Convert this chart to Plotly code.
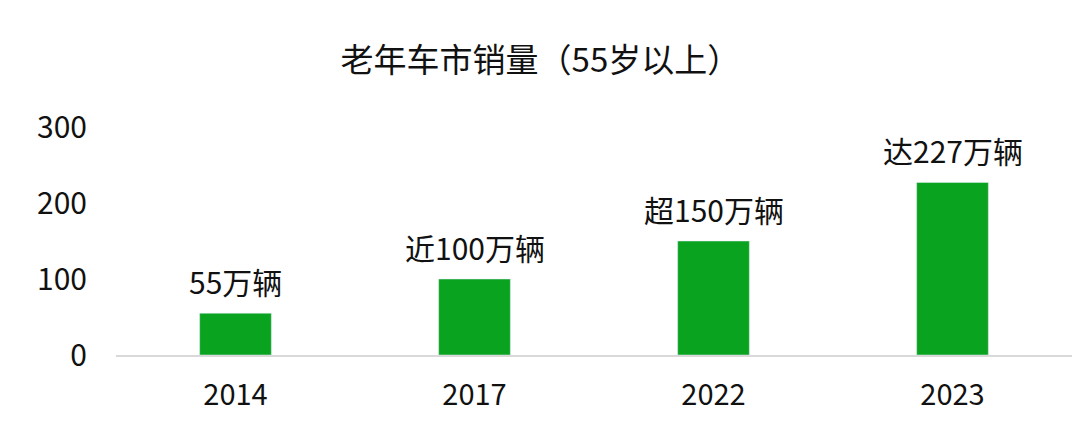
import plotly.graph_objects as go

years = ['2014', '2017', '2022', '2023']
sales = [55, 100, 150, 227]
labels = ['55万辆', '近100万辆', '超150万辆', '达227万辆']
y_ticks = [0, 100, 200, 300]

FONT = 'Noto Sans CJK SC'

fig = go.Figure()
fig.add_trace(go.Bar(x=years, y=sales, marker_color='#0AA320', showlegend=False))

# value labels above bars (category axis: x given as the category index,
# since numeric-looking names would be read as serial numbers)
for i, (val, lab) in enumerate(zip(sales, labels)):
    fig.add_annotation(x=i, y=val, text=lab, showarrow=False, yanchor='bottom', yshift=8,
                       font=dict(family=FONT, size=30, color='#111111'))

# page body has an 8px margin, so margins are shifted to compensate
fig.update_layout(
    width=1080, height=434,
    paper_bgcolor='white', plot_bgcolor='white',
    margin=dict(l=108, r=16, t=119, b=87),
    bargap=0.70,
    font=dict(family=FONT, size=30, color='#111111'),
    title=dict(text='老年车市销量（55岁以上）', x=0.493, xanchor='center', y=0.88, yanchor='middle',
               font=dict(family=FONT, size=33, color='#111111')),
)
fig.update_xaxes(type='category', showline=True, linecolor='#D9D9D9', linewidth=1.5, ticks='',
                 ticklabelstandoff=13, tickfont=dict(size=29))
fig.update_yaxes(range=[0, 300], tickvals=y_ticks, showgrid=False, zeroline=False,
                 showline=False, ticks='', ticklabelstandoff=28, tickfont=dict(size=30))

fig.write_html('out.html')
